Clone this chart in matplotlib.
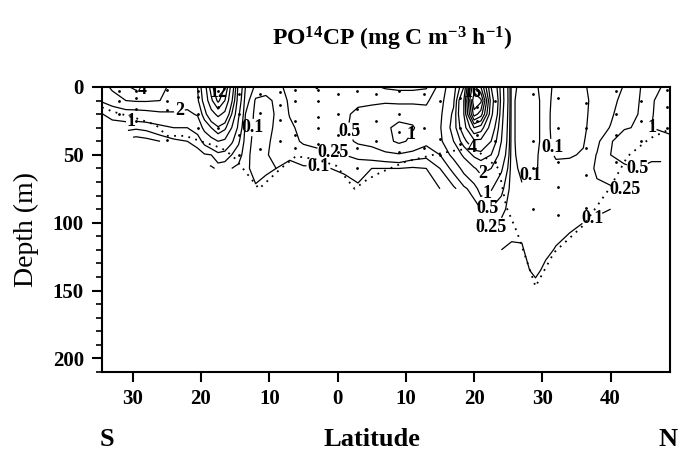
import numpy as np
import matplotlib
matplotlib.use('Agg')
import matplotlib.pyplot as plt
from matplotlib.ticker import MultipleLocator

plt.rcParams['font.family'] = ['Liberation Serif', 'DejaVu Serif']
plt.rcParams['font.weight'] = 'bold'
plt.rcParams['mathtext.fontset'] = 'custom'
plt.rcParams['mathtext.rm'] = 'Liberation Serif:bold'
plt.rcParams['mathtext.it'] = 'Liberation Serif:bold'
plt.rcParams['mathtext.bf'] = 'Liberation Serif:bold'

# depth levels (m)
depth = [0, 10, 20, 30, 40, 50, 60, 75, 90, 105, 120, 135, 150]

# latitude of each profile (south negative)
lat = [-34.6, -33, -31, -29.5, -28, -26, -24, -22, -20.5, -19.5, -18.5, -17.5,
       -16.5, -15.5, -14.5, -13.5, -12, -10.5, -9, -7, -5, -3, -1, 1, 3, 5, 7,
       9, 11, 13, 15, 17, 18.5, 20, 21, 22.5, 24, 25.5, 27, 29, 30.5, 32, 34,
       36, 38, 40, 42, 44, 46, 48.8]

# PO14CP profiles (mg C m-3 h-1), one list per latitude, down to last sampled depth
pp = [
    [2.5, 2.1, 0.95, 0.55],
    [3.2, 2.5, 1.3, 0.6],
    [3.8, 3.0, 1.5, 0.6],
    [4.3, 3.1, 1.5, 0.55, 0.1],
    [4.1, 3.1, 1.6, 0.6, 0.15],
    [3.3, 3.0, 1.8, 0.8, 0.25],
    [2.7, 2.5, 1.9, 1.0, 0.4],
    [2.6, 2.4, 1.8, 1.0, 0.5],
    [3.0, 2.8, 2.1, 1.3, 0.7, 0.3],
    [5.0, 4.5, 3.5, 2.3, 1.2, 0.45],
    [9.0, 7.5, 5.2, 3.0, 1.6, 0.5, 0.2],
    [13.0, 10.5, 6.5, 3.8, 2.0, 0.8, 0.3],
    [10.0, 8.0, 5.5, 3.2, 1.8, 0.7, 0.3],
    [5.0, 4.2, 3.0, 2.0, 1.1, 0.5, 0.25],
    [1.6, 1.4, 1.1, 0.8, 0.55, 0.35, 0.2],
    [0.5, 0.35, 0.25, 0.2, 0.17, 0.14, 0.12],
    [0.2, 0.08, 0.06, 0.06, 0.05, 0.05, 0.07, 0.11],
    [0.15, 0.07, 0.06, 0.06, 0.07, 0.08, 0.09, 0.12],
    [0.2, 0.12, 0.11, 0.12, 0.14, 0.16, 0.1],
    [0.3, 0.28, 0.26, 0.22, 0.2, 0.12, 0.07],
    [0.35, 0.35, 0.33, 0.3, 0.27, 0.18, 0.08],
    [0.23, 0.38, 0.4, 0.38, 0.3, 0.2, 0.08],
    [0.4, 0.42, 0.45, 0.45, 0.35, 0.22, 0.1, 0.05],
    [0.4, 0.42, 0.46, 0.46, 0.4, 0.25, 0.12, 0.05],
    [0.38, 0.45, 0.55, 0.6, 0.55, 0.3, 0.15, 0.08],
    [0.3, 0.45, 0.6, 0.7, 0.6, 0.35, 0.1],
    [0.22, 0.45, 0.7, 0.9, 0.85, 0.4, 0.1],
    [0.2, 0.4, 0.8, 1.15, 1.1, 0.45, 0.1],
    [0.2, 0.4, 0.8, 1.05, 0.9, 0.35, 0.08],
    [0.22, 0.45, 0.6, 0.7, 0.6, 0.3, 0.1],
    [0.6, 0.7, 0.8, 0.9, 0.8, 0.5, 0.25, 0.1],
    [1.5, 1.8, 2.2, 2.4, 2.0, 1.2, 0.6, 0.2],
    [4.0, 6.0, 6.0, 5.0, 3.5, 2.2, 1.2, 0.4],
    [16.5, 20.0, 17.0, 10.0, 5.5, 3.2, 1.9, 0.7, 0.3],
    [14.0, 18.5, 15.0, 9.0, 5.5, 3.5, 2.3, 1.3, 0.5, 0.2],
    [6.0, 7.0, 6.5, 5.0, 4.0, 3.0, 2.0, 1.05, 0.47, 0.22],
    [2.5, 2.6, 2.4, 2.2, 2.0, 1.6, 1.1, 0.6, 0.32, 0.16, 0.1],
    [0.13, 0.12, 0.12, 0.12, 0.12, 0.12, 0.13, 0.14, 0.15, 0.13, 0.08],
    [0.07, 0.06, 0.06, 0.06, 0.06, 0.07, 0.08, 0.11, 0.15, 0.12, 0.09, 0.06],
    [0.09, 0.08, 0.08, 0.08, 0.08, 0.09, 0.09, 0.14, 0.18, 0.18, 0.16, 0.13, 0.05],
    [0.13, 0.13, 0.13, 0.13, 0.13, 0.13, 0.14, 0.16, 0.18, 0.17, 0.13, 0.07, 0.03],
    [0.08, 0.07, 0.06, 0.06, 0.07, 0.09, 0.12, 0.15, 0.17, 0.14, 0.09, 0.04],
    [0.07, 0.06, 0.06, 0.06, 0.07, 0.09, 0.13, 0.16, 0.16, 0.11, 0.05],
    [0.09, 0.08, 0.08, 0.08, 0.09, 0.11, 0.15, 0.18, 0.14, 0.08],
    [0.13, 0.13, 0.14, 0.16, 0.2, 0.26, 0.28, 0.22, 0.12, 0.06],
    [0.18, 0.2, 0.22, 0.26, 0.45, 0.5, 0.4, 0.22, 0.1],
    [0.26, 0.3, 0.35, 0.45, 0.8, 0.6, 0.45, 0.25, 0.12],
    [0.4, 0.45, 0.5, 0.55, 0.6, 0.55, 0.5, 0.3],
    [0.9, 0.95, 0.98, 1.0, 0.8, 0.6, 0.4],
    [1.1, 1.3, 1.2, 1.1, 0.9, 0.6],
]

levels = [0.1, 0.25, 0.5, 1, 2, 3, 4, 6, 8, 10, 12, 14, 16, 18]

# dotted line (euphotic depth)
zeu_lat = [-34.5, -33, -29.5, -26.6, -25, -22.3, -20, -17, -15.3, -12.6, -11.5, -8.3,
           -6.1, -3.4, -0.2, 2.5, 4.4, 6.3, 10, 14, 17, 20, 23.6, 24.7, 26.3,
           29, 31.7, 36, 39.8, 42.5, 45.7, 48.7]
zeu_depth = [15, 18, 23, 28, 36, 36, 40, 45, 51, 68, 75, 60, 51, 53, 58, 75,
             68, 63, 55, 50, 47, 45, 60, 88, 107, 147, 122, 102, 75, 51, 38, 31]

# sampling stations and sampled depths
st_lat = [-32, -29.5, -25, -20.5, -17.5, -14.5, -11.3, -8.5, -6.2, -2.9, 0, 2.9,
          5.7, 9, 12.6, 15, 18, 20.5, 23, 28.6, 32.3, 36.4, 40.8, 44.5, 48.2]
st_depths = [[3, 10, 20], [3, 8, 16, 25], [2, 10, 17, 39], [3, 7, 20, 30],
             [3, 15, 30], [5, 20, 35, 50], [5, 19, 46], [4, 13, 24, 40],
             [2, 10, 25, 35, 45], [2, 10, 22, 30, 42], [5, 20, 35, 48],
             [3, 16, 30, 45, 60], [5, 25, 40], [3, 20, 33, 48], [5, 30, 45],
             [10, 38, 50], [8, 30, 42], [2, 15, 25, 35], [10, 40, 55],
             [5, 40, 60, 90], [8, 30, 55, 74, 94], [12, 30, 45, 65, 89],
             [3, 20, 35, 55], [10, 25, 40], [2, 15, 30]]

# contour label positions: (level, lat, depth)
label_pos = [(4, -28.3, 5), (2, -23, 20), (1, -30.2, 24), (12, -17.4, 4),
             (0.1, -11.5, 30), (0.25, -1, 52), (0.1, -3, 62), (0.5, 2.3, 32),
             (1, 11.4, 36), (16, 20.3, 4), (4, 19.5, 45), (2, 21.2, 63),
             (1, 21.8, 78), (0.5, 22, 92), (0.25, 22.5, 105), (0.1, 29, 68),
             (0.1, 32.5, 44), (1, 45.7, 30), (0.5, 44, 63), (0.25, 41.4, 79),
             (0.1, 39.5, 108)]

Z = np.full((len(depth), len(lat)), np.nan)
for j, prof in enumerate(pp):
    Z[:len(prof), j] = prof
Z = np.ma.masked_invalid(Z)

fig = plt.figure(figsize=(6.78, 4.5), dpi=100)
ax = fig.add_axes([102/678, 1-372/450, (670-102)/678, (372-87)/450])

# one contour set per level so each label lands on its own level
for lev in levels:
    c = ax.contour(lat, depth, Z, levels=[lev], colors='k', linewidths=0.9)
    pts = [(p[1], p[2]) for p in label_pos if p[0] == lev]
    if pts and len(c.allsegs[0]) > 0:
        txts = c.clabel(manual=pts, inline=True, inline_spacing=1,
                        fmt=lambda v: '%g' % v, fontsize=13)
        for t in txts:
            t.set_rotation(0)

ax.plot(zeu_lat, zeu_depth, color='k', lw=1.3, linestyle=(0, (1, 3)))
for x, ds in zip(st_lat, st_depths):
    ax.plot([x]*len(ds), ds, 'k.', ms=2)

ax.set_xlim(-34.5, 48.7)
ax.set_ylim(210, 0)
ax.set_xticks([-30, -20, -10, 0, 10, 20, 30, 40])
ax.set_xticklabels(['30', '20', '10', '0', '10', '20', '30', '40'])
ax.set_yticks([0, 50, 100, 150, 200])
ax.yaxis.set_minor_locator(MultipleLocator(10))
ax.tick_params(axis='both', direction='out', labelsize=15, width=1.5, length=7)
ax.tick_params(axis='y', pad=6)
ax.tick_params(axis='x', pad=5)
ax.tick_params(axis='y', which='minor', direction='out', width=1.2, length=4)
ax.tick_params(top=False, right=False)
for s in ax.spines.values():
    s.set_linewidth(1.5)
ax.set_ylabel('Depth (m)', fontsize=20, labelpad=10)

fig.text(392/678, 1-39/450, r'PO$^{\mathrm{14}}$CP (mg C m$^{\mathrm{-3}}$ h$^{\mathrm{-1}}$)',
         ha='center', va='center', fontsize=17)
fig.text(107/678, 1-440/450, 'S', ha='center', va='center', fontsize=19)
fig.text(372/678, 1-440/450, 'Latitude', ha='center', va='center', fontsize=19)
fig.text(668/678, 1-440/450, 'N', ha='center', va='center', fontsize=19)

fig.savefig('out.png', dpi=100)
